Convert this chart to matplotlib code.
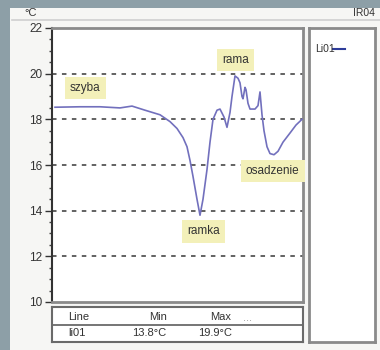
import matplotlib.pyplot as plt
from matplotlib.patches import Rectangle
from matplotlib.lines import Line2D
import numpy as np

plt.rcParams['font.family'] = ['Liberation Sans', 'DejaVu Sans']

# profile position (arbitrary units along the line) and temperature
position = [3, 28, 48, 68, 80, 93, 108, 118, 125, 131, 135, 138, 141, 145, 148,
            151, 155, 158, 161, 165, 168, 172, 175, 178, 180, 183, 186, 188,
            190, 191, 193, 194, 196, 198, 203, 206, 208, 210, 212, 215, 218,
            222, 226, 231, 238, 244, 250]
temperature = [18.53, 18.55, 18.55, 18.5, 18.58, 18.4, 18.2, 17.9, 17.6, 17.2,
               16.8, 16.2, 15.5, 14.5, 13.8, 14.5, 15.8, 17.0, 18.0, 18.4,
               18.45, 18.1, 17.65, 18.3, 19.0, 19.9, 19.8, 19.6, 19.0, 18.9,
               19.4, 19.3, 18.7, 18.45, 18.45, 18.6, 19.2, 18.2, 17.5, 16.8,
               16.5, 16.45, 16.6, 17.0, 17.4, 17.75, 18.0]

y_ticks = [10, 12, 14, 16, 18, 20, 22]
grid_levels = [12, 14, 16, 18, 20]

# annotations: (text, x, y)
notes = [('szyba', 18, 19.37), ('rama', 170, 20.6),
         ('osadzenie', 194, 15.73), ('ramka', 135, 13.1)]

table_header = ['Line', 'Min', 'Max', '...']
table_row = ['li01', '13.8°C', '19.9°C']

W, H = 380, 350
fig = plt.figure(figsize=(W / 100, H / 100), dpi=100)
fig.patch.set_facecolor('#8d9fa7')


def box(x0, y0, x1, y1):
    # pixel box (top-left origin) -> figure fraction rect
    return [x0 / W, 1 - y1 / H, (x1 - x0) / W, (y1 - y0) / H]


# inner light panel
fig.patches.append(Rectangle((10 / W, 0), 1, 1 - 8 / H, transform=fig.transFigure,
                             facecolor='#f6f6f4', edgecolor='none', zorder=-10))
fig.add_artist(Line2D([12 / W, 1], [1 - 20 / H] * 2, color='#cfcfcf', lw=1.2, zorder=-5))
fig.text(375 / W, 1 - 13 / H, 'IR04', fontsize=7.5, ha='right', va='center', color='#333333')

# main plot
ax = fig.add_axes(box(52, 28, 303, 302))
ax.set_facecolor('white')
ax.plot(position, temperature, color='#7270bd', lw=1.2, zorder=3)
for g in grid_levels:
    ax.axhline(g, color='#555555', lw=1.3, ls=(0, (2.5, 3)), zorder=1)
ax.set_xlim(0, 251)
ax.set_ylim(10, 22)
ax.set_yticks(y_ticks)
ax.set_yticks(np.arange(10, 22.01, 0.5), minor=True)
ax.set_xticks([])
ax.tick_params(axis='y', which='major', length=5, width=1, labelsize=8.5, colors='#333333', pad=2)
ax.tick_params(axis='y', which='minor', length=2.5, width=1, colors='#444444')
ax.spines['left'].set_color('#333333')
ax.spines['left'].set_linewidth(1.5)
for s in ['top', 'right', 'bottom']:
    ax.spines[s].set_color('#8a8a8a')
    ax.spines[s].set_linewidth(2)
ax.text(-0.085, 1.055, '°C', transform=ax.transAxes, fontsize=8, color='#333333',
        ha='center', va='center')

for label, x, y in notes:
    ax.text(x, y, label, fontsize=8.5, color='#333333', ha='left', va='center', zorder=4,
            clip_on=False,
            bbox=dict(boxstyle='square,pad=0.45', facecolor='#f3f0b9', edgecolor='none'))

# legend panel
lax = fig.add_axes(box(309, 28, 375, 342))
lax.set_xticks([])
lax.set_yticks([])
lax.set_facecolor('white')
for s in lax.spines.values():
    s.set_color('#8a8a8a')
    s.set_linewidth(2)
lax.set_xlim(0, 66)
lax.set_ylim(314, 0)
lax.text(6, 21, 'Li01', fontsize=7.5, va='center', color='#333333')
lax.plot([24, 36], [21, 21], color='#2e3c9a', lw=1.5)

# statistics table
tax = fig.add_axes(box(52, 307, 303, 342))
tax.set_xticks([])
tax.set_yticks([])
tax.set_facecolor('white')
for s in tax.spines.values():
    s.set_color('#6a6a6a')
    s.set_linewidth(1.5)
tax.set_xlim(52, 303)
tax.set_ylim(342, 307)
tax.axhline(325, color='#6a6a6a', lw=1.3)
fs = 8
tax.text(68, 317, table_header[0], fontsize=fs, va='center', color='#333333')
tax.text(167, 317, table_header[1], fontsize=fs, va='center', ha='right', color='#333333')
tax.text(231, 317, table_header[2], fontsize=fs, va='center', ha='right', color='#333333')
tax.text(243, 318, table_header[3], fontsize=fs, va='center', color='#999999')
tax.text(68, 333, table_row[0], fontsize=fs, va='center', color='#333333')
tax.text(166, 333, table_row[1], fontsize=fs, va='center', ha='right', color='#333333')
tax.text(232, 333, table_row[2], fontsize=fs, va='center', ha='right', color='#333333')

fig.savefig('out.png', dpi=100, facecolor=fig.get_facecolor())
